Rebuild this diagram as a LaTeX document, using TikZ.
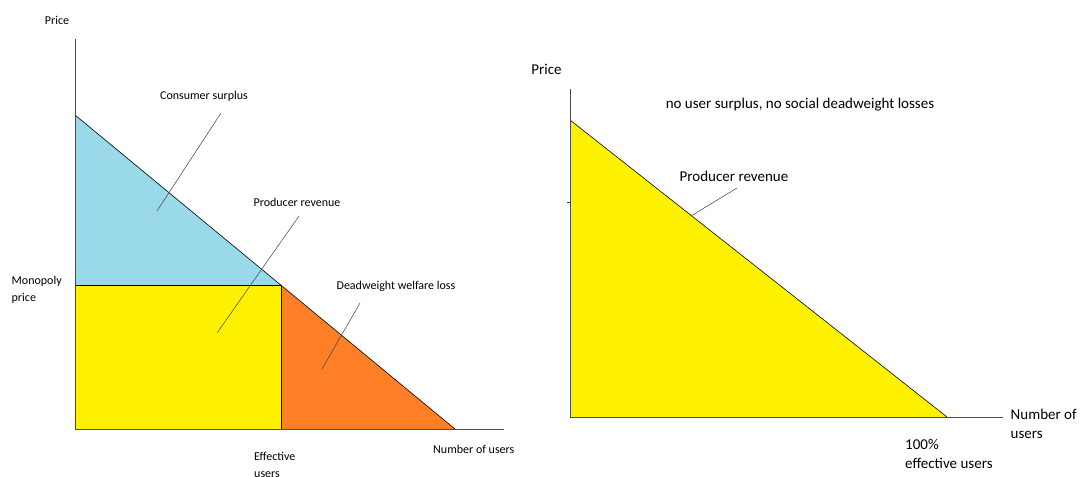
\documentclass[tikz,border=0pt]{standalone}
\usepackage{fontspec}
\setmainfont{Carlito}
\usepackage{tikz}
\definecolor{csblue}{HTML}{99D9EA}
\definecolor{prodyel}{HTML}{FFF200}
\definecolor{dwlorange}{HTML}{FF7F27}

\begin{document}
\begin{tikzpicture}[x=1pt, y=-1pt,
    axis/.style = {draw=black!70, line width=0.9pt},
    demand/.style = {draw=black, line width=0.6pt},
    lead/.style = {draw=black!75, line width=0.5pt},
    small/.style = {font=\fontsize{12}{17}\selectfont, inner sep=0pt, align=left},
    large/.style = {font=\fontsize{15}{19}\selectfont, inner sep=0pt, align=left}]
    \useasboundingbox (0,0) rectangle (1080,477);
    % left chart: monopoly
    \coordinate (o1) at (75,429);
    \coordinate (top1) at (75,39);
    \coordinate (end1) at (504,429);
    \coordinate (p1) at (75,115);
    \coordinate (q1) at (455,429);
    \coordinate (m1) at (281,285.2);
    \coordinate (mp) at (75,285.2);
    \coordinate (eu) at (281,429);
    \fill[csblue] (p1) -- (m1) -- (mp) -- cycle;
    \fill[prodyel] (mp) rectangle (eu);
    \fill[dwlorange] (m1) -- (q1) -- (eu) -- cycle;
    \draw[demand] (p1) -- (q1);
    \draw[demand] (mp) -- (m1) -- (eu);
    \draw[axis] (top1) -- (o1) -- (end1);
    \node[small] (1) at (57,20) {Price};
    \node[small, anchor=west] (2) at (11.5,289.5) {Monopoly\\price};
    \node[small, anchor=west] (3) at (254,464.5) {Effective\\users};
    \node[small, anchor=west] (4) at (433,449) {Number of users};
    \node[small] (5) at (204,96) {Consumer surplus};
    \node[small] (6) at (297,202) {Producer revenue};
    \node[small] (7) at (396,286) {Deadweight welfare loss};
    \coordinate (a1) at (221,113);
    \coordinate (a2) at (157,211);
    \coordinate (b1) at (299,216);
    \coordinate (b2) at (217,333);
    \coordinate (c1) at (360,303);
    \coordinate (c2) at (322,369);
    \draw[lead] (a1) -- (a2);
    \draw[lead] (b1) -- (b2);
    \draw[lead] (c1) -- (c2);
    % right chart: perfect price discrimination
    \coordinate (o2) at (570,417);
    \coordinate (top2) at (570,89);
    \coordinate (end2) at (1003,417);
    \coordinate (p2) at (570,120);
    \coordinate (q2) at (947,417);
    \coordinate (t2) at (566.5,202);
    \coordinate (t3) at (570,202);
    \fill[prodyel] (p2) -- (q2) -- (o2) -- cycle;
    \draw[demand] (p2) -- (q2);
    \draw[axis] (top2) -- (o2) -- (end2);
    \draw[lead] (t2) -- (t3);
    \node[large] (8) at (546.5,69) {Price};
    \node[large] (9) at (800,105) {no user surplus, no social deadweight losses};
    \node[large] (10) at (734,176) {Producer revenue};
    \node[large, anchor=west] (11) at (1010.5,423.5) {Number of\\users};
    \node[large, anchor=west] (12) at (905,454) {100\%\\effective users};
    \coordinate (d1) at (737,188);
    \coordinate (d2) at (691,216);
    \draw[lead] (d1) -- (d2);
\end{tikzpicture}
\end{document}
